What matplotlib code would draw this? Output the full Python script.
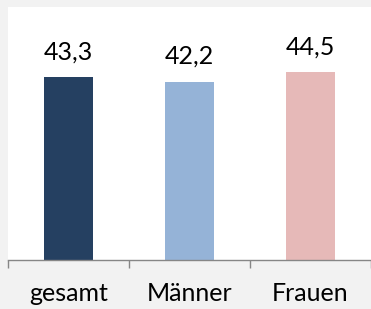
import matplotlib
matplotlib.use('Agg')
import matplotlib.pyplot as plt

categories = ['gesamt', 'Männer', 'Frauen']
values = [43.3, 42.2, 44.5]
labels = ['43,3', '42,2', '44,5']
colors = ['#254061', '#95b3d7', '#e6b9b8']

plt.rcParams['font.family'] = ['Lato', 'DejaVu Sans']

fig = plt.figure(figsize=(3.71, 3.09), dpi=100, facecolor='#f2f2f2')
ax = fig.add_axes([8 / 371, 49 / 309, 363 / 371, 253 / 309])
ax.set_facecolor('white')

x = range(len(categories))
bars = ax.bar(x, values, width=0.40, color=colors)

for b, lab in zip(bars, labels):
    ax.annotate(lab, (b.get_x() + b.get_width() / 2, b.get_height()),
                xytext=(0, 13), textcoords='offset points',
                ha='center', va='baseline', fontsize=18, color='black')

ax.set_xlim(-0.5, 2.5)
ax.set_ylim(0, 60)
for s in ['top', 'right', 'left']:
    ax.spines[s].set_visible(False)
ax.spines['bottom'].set_color('#868686')
ax.spines['bottom'].set_linewidth(1.0)

ax.set_yticks([])
ax.set_xticks(list(x))
ax.set_xticklabels(categories, fontsize=18)
ax.tick_params(axis='x', which='major', length=0, pad=16)
ax.set_xticks([-0.5, 0.5, 1.5, 2.5], minor=True)
ax.tick_params(axis='x', which='minor', length=6, width=1.0, color='#868686')

fig.savefig('out.png', dpi=100, facecolor=fig.get_facecolor())
